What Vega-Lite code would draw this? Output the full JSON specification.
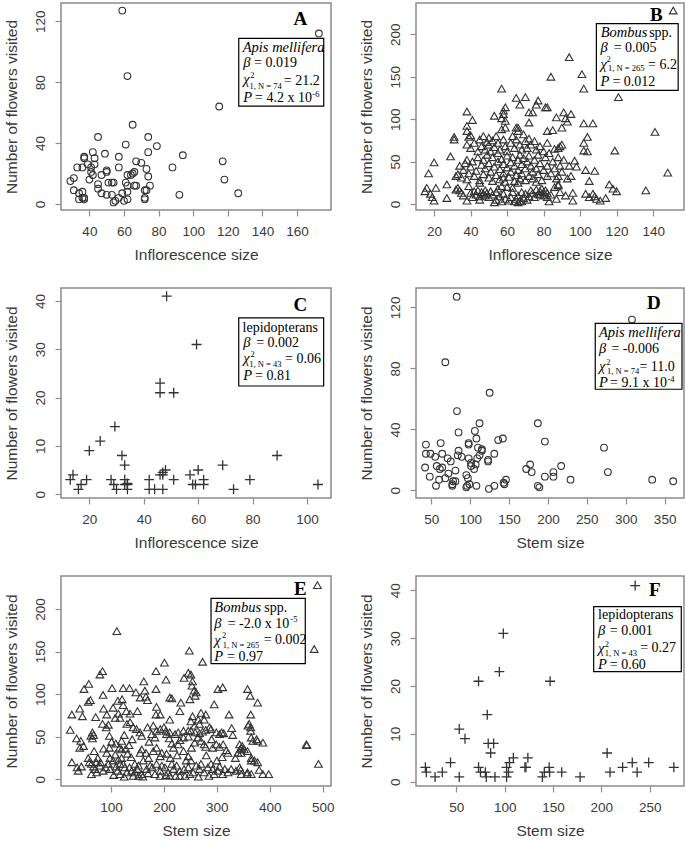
{
"$schema":"https://vega.github.io/schema/vega-lite/v6.json",
"background":"white",
"padding":{"left":3,"top":2,"right":0,"bottom":0},
"columns":2,
"spacing":{"row":78,"column":85},
"bounds":"flush",
"config":{
 "view":{"stroke":"#8c8c8c","strokeWidth":1.5},
 "axis":{"domain":false,"grid":false,"tickColor":"#8c8c8c","tickSize":6,"tickWidth":1.2,"labelFont":"Liberation Sans","labelFontSize":13.5,"labelColor":"#3a3a3a","titleFont":"Liberation Sans","titleFontSize":15.5,"titleFontWeight":"normal","titleColor":"#3a3a3a","labelPadding":8,"titlePadding":10},
 "axisY":{"labelAngle":-90,"labelAlign":"center","labelBaseline":"bottom","labelPadding":8,"titlePadding":14},
 "text":{"font":"Liberation Serif","align":"left","baseline":"middle","color":"black"}
},
"datasets":{
 "A":[{"x":59,"y":127},{"x":172.6,"y":112},{"x":62,"y":84},{"x":115,"y":64},{"x":65,"y":52},{"x":45,"y":44},{"x":74,"y":44},{"x":79,"y":38},{"x":61,"y":39},{"x":94,"y":32},{"x":74,"y":34},{"x":117,"y":28},{"x":88,"y":24},{"x":118,"y":16},{"x":126,"y":7},{"x":92,"y":6},{"x":57,"y":31},{"x":49,"y":33},{"x":37,"y":31},{"x":37,"y":30},{"x":42,"y":34},{"x":43,"y":30},{"x":43,"y":26},{"x":39,"y":26},{"x":33,"y":24},{"x":36,"y":24},{"x":41,"y":24},{"x":41,"y":21},{"x":57,"y":24},{"x":42,"y":19},{"x":40,"y":16},{"x":31,"y":17},{"x":29,"y":15},{"x":31,"y":9},{"x":36,"y":8},{"x":34,"y":7},{"x":34,"y":3},{"x":36,"y":4},{"x":37,"y":3},{"x":37,"y":4},{"x":45,"y":13},{"x":45,"y":10},{"x":47,"y":7},{"x":50,"y":6},{"x":53,"y":6},{"x":47,"y":19},{"x":50,"y":22},{"x":50,"y":21},{"x":51,"y":14},{"x":53,"y":14},{"x":54,"y":14},{"x":54,"y":1},{"x":55,"y":2},{"x":57,"y":4},{"x":60,"y":2},{"x":62,"y":3},{"x":59,"y":7},{"x":62,"y":8},{"x":61,"y":14},{"x":62,"y":19},{"x":64,"y":19},{"x":65,"y":20},{"x":66,"y":21},{"x":67,"y":28},{"x":70,"y":27},{"x":66,"y":12},{"x":67,"y":12},{"x":73,"y":23},{"x":74,"y":18},{"x":75,"y":12},{"x":72,"y":9},{"x":73,"y":9},{"x":72,"y":4},{"x":72,"y":3},{"x":62,"y":12}],
 "B":[{"x":16,"y":19},{"x":15,"y":15},{"x":19,"y":8},{"x":20,"y":4},{"x":21,"y":19},{"x":27,"y":23},{"x":27,"y":7},{"x":18,"y":12},{"x":33,"y":19},{"x":32,"y":17},{"x":34,"y":16},{"x":38,"y":4},{"x":36,"y":10},{"x":40,"y":13},{"x":41,"y":8},{"x":42,"y":15},{"x":43,"y":11},{"x":44,"y":16},{"x":45,"y":9},{"x":46,"y":14},{"x":47,"y":12},{"x":48,"y":10},{"x":48,"y":16},{"x":49,"y":13},{"x":50,"y":8},{"x":51,"y":15},{"x":52,"y":11},{"x":53,"y":2},{"x":54,"y":5},{"x":54,"y":14},{"x":55,"y":18},{"x":56,"y":9},{"x":57,"y":3},{"x":58,"y":12},{"x":59,"y":6},{"x":60,"y":20},{"x":61,"y":4},{"x":62,"y":8},{"x":63,"y":14},{"x":64,"y":3},{"x":65,"y":6},{"x":66,"y":2},{"x":66,"y":10},{"x":67,"y":4},{"x":68,"y":3},{"x":68,"y":14},{"x":69,"y":7},{"x":70,"y":12},{"x":71,"y":5},{"x":72,"y":9},{"x":73,"y":16},{"x":74,"y":13},{"x":75,"y":8},{"x":76,"y":17},{"x":77,"y":12},{"x":78,"y":15},{"x":78,"y":11},{"x":79,"y":18},{"x":80,"y":14},{"x":80,"y":10},{"x":81,"y":16},{"x":82,"y":13},{"x":82,"y":8},{"x":83,"y":3},{"x":84,"y":11},{"x":86,"y":20},{"x":87,"y":6},{"x":88,"y":22},{"x":89,"y":14},{"x":92,"y":10},{"x":96,"y":13},{"x":96,"y":4},{"x":103,"y":12},{"x":105,"y":8},{"x":107,"y":12},{"x":108,"y":9},{"x":109,"y":6},{"x":111,"y":4},{"x":114,"y":7},{"x":116,"y":23},{"x":118,"y":18},{"x":120,"y":15},{"x":136,"y":16},{"x":63,"y":19},{"x":57,"y":21},{"x":45,"y":5},{"x":39,"y":21},{"x":35,"y":13},
 {"x":29,"y":56},{"x":34,"y":45},{"x":17,"y":36},{"x":20,"y":49},{"x":32,"y":33},{"x":33,"y":35},{"x":35,"y":31},{"x":36,"y":40},{"x":37,"y":48},{"x":38,"y":52},{"x":38,"y":29},{"x":39,"y":36},{"x":40,"y":44},{"x":41,"y":50},{"x":42,"y":33},{"x":43,"y":39},{"x":44,"y":55},{"x":45,"y":28},{"x":46,"y":46},{"x":47,"y":52},{"x":47,"y":35},{"x":48,"y":42},{"x":49,"y":58},{"x":50,"y":31},{"x":50,"y":48},{"x":51,"y":38},{"x":52,"y":55},{"x":52,"y":27},{"x":53,"y":44},{"x":54,"y":34},{"x":55,"y":50},{"x":55,"y":60},{"x":56,"y":29},{"x":56,"y":41},{"x":57,"y":53},{"x":58,"y":36},{"x":58,"y":47},{"x":59,"y":26},{"x":60,"y":43},{"x":60,"y":57},{"x":61,"y":32},{"x":62,"y":49},{"x":62,"y":38},{"x":63,"y":55},{"x":64,"y":27},{"x":64,"y":45},{"x":65,"y":34},{"x":66,"y":52},{"x":66,"y":40},{"x":67,"y":58},{"x":67,"y":30},{"x":68,"y":47},{"x":68,"y":36},{"x":69,"y":54},{"x":70,"y":42},{"x":70,"y":28},{"x":71,"y":50},{"x":72,"y":33},{"x":72,"y":57},{"x":73,"y":45},{"x":74,"y":38},{"x":74,"y":30},{"x":75,"y":52},{"x":76,"y":42},{"x":77,"y":35},{"x":77,"y":58},{"x":78,"y":48},{"x":79,"y":28},{"x":80,"y":40},{"x":81,"y":55},{"x":82,"y":33},{"x":82,"y":45},{"x":83,"y":60},{"x":84,"y":36},{"x":85,"y":50},{"x":86,"y":42},{"x":87,"y":30},{"x":88,"y":55},{"x":89,"y":45},{"x":90,"y":38},{"x":91,"y":52},{"x":93,"y":30},{"x":94,"y":45},{"x":95,"y":33},{"x":97,"y":51},{"x":98,"y":44},{"x":103,"y":40},{"x":105,"y":27},{"x":108,"y":39},{"x":119,"y":63},{"x":104,"y":62},{"x":102,"y":63},{"x":88,"y":23},{"x":88,"y":33},{"x":66,"y":25},{"x":45,"y":25},{"x":58,"y":31},{"x":76,"y":26},
 {"x":31,"y":79},{"x":31,"y":76},{"x":38,"y":92},{"x":38,"y":86},{"x":39,"y":79},{"x":40,"y":81},{"x":41,"y":99},{"x":38,"y":109},{"x":38,"y":70},{"x":40,"y":66},{"x":42,"y":72},{"x":44,"y":62},{"x":45,"y":76},{"x":46,"y":68},{"x":47,"y":80},{"x":48,"y":64},{"x":49,"y":73},{"x":50,"y":78},{"x":50,"y":70},{"x":51,"y":62},{"x":52,"y":75},{"x":53,"y":104},{"x":53,"y":67},{"x":54,"y":80},{"x":55,"y":72},{"x":56,"y":64},{"x":57,"y":101},{"x":57,"y":88},{"x":58,"y":110},{"x":58,"y":76},{"x":59,"y":90},{"x":59,"y":98},{"x":59,"y":68},{"x":60,"y":62},{"x":62,"y":72},{"x":63,"y":80},{"x":64,"y":66},{"x":65,"y":90},{"x":65,"y":76},{"x":66,"y":86},{"x":67,"y":70},{"x":68,"y":64},{"x":69,"y":82},{"x":70,"y":74},{"x":71,"y":66},{"x":72,"y":77},{"x":72,"y":96},{"x":73,"y":70},{"x":75,"y":74},{"x":76,"y":64},{"x":78,"y":68},{"x":80,"y":62},{"x":82,"y":86},{"x":82,"y":72},{"x":85,"y":87},{"x":86,"y":65},{"x":88,"y":66},{"x":89,"y":68},{"x":90,"y":70},{"x":90,"y":90},{"x":91,"y":108},{"x":92,"y":101},{"x":93,"y":97},{"x":95,"y":106},{"x":87,"y":102},{"x":102,"y":72},{"x":104,"y":79},{"x":102,"y":95},{"x":107,"y":95},{"x":66,"y":90},
 {"x":57,"y":136},{"x":65,"y":125},{"x":70,"y":126},{"x":67,"y":117},{"x":76,"y":117},{"x":77,"y":122},{"x":74,"y":108},{"x":81,"y":114},{"x":59,"y":114},{"x":58,"y":106},{"x":72,"y":108},{"x":82,"y":114},{"x":84,"y":150},{"x":94,"y":173},{"x":101,"y":153},{"x":102,"y":136},{"x":121,"y":126},{"x":141,"y":85},{"x":148,"y":37},{"x":151,"y":228}],
 "C":[{"x":48.4,"y":41},{"x":59.4,"y":31},{"x":46,"y":23},{"x":46,"y":21},{"x":51,"y":21},{"x":29.4,"y":14},{"x":24,"y":11},{"x":20,"y":9},{"x":32,"y":8},{"x":33,"y":6},{"x":89,"y":8},{"x":69,"y":6},{"x":13,"y":3},{"x":14,"y":4},{"x":16,"y":1},{"x":17,"y":2},{"x":19,"y":3},{"x":28,"y":3},{"x":29,"y":2},{"x":30,"y":1},{"x":33,"y":3},{"x":33,"y":2},{"x":34,"y":2},{"x":34,"y":1},{"x":42,"y":3},{"x":42,"y":1},{"x":44,"y":1},{"x":47,"y":1},{"x":47,"y":4},{"x":47,"y":4.5},{"x":48,"y":5},{"x":51,"y":3},{"x":58,"y":2},{"x":57,"y":4},{"x":60,"y":5},{"x":59,"y":2},{"x":62,"y":3},{"x":62,"y":2},{"x":73,"y":1},{"x":79,"y":3},{"x":104,"y":2},{"x":34,"y":2.2},{"x":46,"y":4}],
 "D":[{"x":82.6,"y":127},{"x":308,"y":112},{"x":68,"y":84},{"x":125,"y":64},{"x":83,"y":52},{"x":112,"y":44},{"x":187,"y":44},{"x":106,"y":39},{"x":85,"y":38},{"x":142,"y":34},{"x":136,"y":33},{"x":108,"y":34},{"x":196,"y":32},{"x":43,"y":30},{"x":62,"y":31},{"x":98,"y":30},{"x":98,"y":31},{"x":85,"y":26},{"x":110,"y":28},{"x":115,"y":26},{"x":115,"y":27},{"x":272,"y":28},{"x":43,"y":24},{"x":49,"y":24},{"x":64,"y":24},{"x":84,"y":23},{"x":89,"y":22},{"x":98,"y":21},{"x":112,"y":23},{"x":109,"y":21},{"x":131,"y":24},{"x":71,"y":21},{"x":55,"y":22},{"x":75,"y":19},{"x":123,"y":19},{"x":123,"y":20},{"x":101,"y":18},{"x":101,"y":16},{"x":105,"y":14},{"x":42,"y":15},{"x":64,"y":15},{"x":61,"y":14},{"x":177,"y":17},{"x":172,"y":14},{"x":179,"y":12},{"x":217,"y":16},{"x":207,"y":12},{"x":207,"y":9},{"x":196,"y":9},{"x":277,"y":12},{"x":81,"y":13},{"x":72,"y":11},{"x":48,"y":9},{"x":95,"y":10},{"x":97,"y":8},{"x":68,"y":8},{"x":56,"y":3},{"x":77,"y":4},{"x":77,"y":3},{"x":81,"y":6},{"x":96,"y":3},{"x":99,"y":4},{"x":108,"y":3},{"x":95,"y":2},{"x":124,"y":1},{"x":131,"y":3},{"x":143,"y":5},{"x":144,"y":4},{"x":146,"y":7},{"x":187,"y":3},{"x":189,"y":2},{"x":229,"y":7},{"x":334,"y":7},{"x":361,"y":6},{"x":60,"y":7},{"x":78,"y":6},{"x":107,"y":17},{"x":57,"y":16}],
 "E":[{"x":490,"y":228},{"x":484,"y":153},{"x":492,"y":18},{"x":469,"y":41},{"x":470,"y":40},{"x":111,"y":174},{"x":201,"y":137},{"x":248,"y":151},{"x":273,"y":138},
 {"x":84,"y":127},{"x":79,"y":123},{"x":58,"y":112},{"x":49,"y":106},{"x":102,"y":107},{"x":123,"y":107},{"x":135,"y":107},{"x":147,"y":102},{"x":162,"y":115},{"x":185,"y":127},{"x":204,"y":117},{"x":185,"y":106},{"x":238,"y":119},{"x":246,"y":125},{"x":251,"y":123},{"x":254,"y":115},{"x":253,"y":110},{"x":257,"y":104},{"x":261,"y":102},{"x":302,"y":106},{"x":311,"y":108},{"x":358,"y":106},{"x":211,"y":96},{"x":215,"y":95},
 {"x":85,"y":99},{"x":57,"y":91},{"x":61,"y":93},{"x":41,"y":83},{"x":46,"y":74},{"x":26,"y":76},{"x":71,"y":73},{"x":86,"y":83},{"x":92,"y":76},{"x":114,"y":77},{"x":104,"y":84},{"x":113,"y":92},{"x":121,"y":94},{"x":123,"y":87},{"x":129,"y":80},{"x":136,"y":77},{"x":150,"y":80},{"x":166,"y":97},{"x":169,"y":93},{"x":186,"y":85},{"x":185,"y":76},{"x":193,"y":76},{"x":232,"y":90},{"x":249,"y":94},{"x":230,"y":80},{"x":155,"y":96},{"x":164,"y":104},{"x":259,"y":98},{"x":295,"y":88},{"x":363,"y":98},{"x":377,"y":90},{"x":364,"y":76},{"x":270,"y":78},{"x":279,"y":76},{"x":276,"y":70},{"x":265,"y":70},{"x":254,"y":74},{"x":211,"y":70},{"x":108,"y":72},{"x":117,"y":72},
 {"x":84,"y":65},{"x":65,"y":55},{"x":65,"y":48},{"x":62,"y":51},{"x":67,"y":52},{"x":35,"y":48},{"x":43,"y":45},{"x":23,"y":58},{"x":97,"y":51},{"x":91,"y":61},{"x":95,"y":64},{"x":130,"y":65},{"x":136,"y":67},{"x":142,"y":61},{"x":148,"y":59},{"x":155,"y":55},{"x":158,"y":51},{"x":169,"y":61},{"x":180,"y":63},{"x":186,"y":57},{"x":193,"y":59},{"x":177,"y":53},{"x":183,"y":49},{"x":205,"y":53},{"x":211,"y":55},{"x":221,"y":53},{"x":227,"y":55},{"x":237,"y":57},{"x":246,"y":57},{"x":200,"y":61},{"x":204,"y":57},{"x":210,"y":48},{"x":237,"y":49},{"x":246,"y":50},{"x":109,"y":42},{"x":361,"y":65},{"x":359,"y":63},{"x":364,"y":61},{"x":364,"y":57},{"x":323,"y":76},{"x":328,"y":60},{"x":251,"y":68},{"x":258,"y":63},{"x":267,"y":65},{"x":251,"y":57},{"x":259,"y":55},{"x":267,"y":54},{"x":273,"y":56},{"x":279,"y":58},{"x":286,"y":61},{"x":289,"y":59},{"x":299,"y":55},{"x":305,"y":53},{"x":309,"y":55},{"x":313,"y":54},{"x":264,"y":49},{"x":270,"y":45},{"x":258,"y":43},{"x":365,"y":49},{"x":368,"y":45},{"x":377,"y":45},{"x":387,"y":43},{"x":375,"y":47},{"x":120,"y":45},{"x":125,"y":52},{"x":140,"y":47},{"x":172,"y":44},{"x":215,"y":42},{"x":230,"y":46},{"x":290,"y":47},{"x":330,"y":52},
 {"x":48,"y":39},{"x":41,"y":37},{"x":86,"y":36},{"x":97,"y":37},{"x":116,"y":37},{"x":120,"y":35},{"x":108,"y":29},{"x":114,"y":23},{"x":120,"y":25},{"x":68,"y":33},{"x":75,"y":25},{"x":57,"y":25},{"x":92,"y":31},{"x":98,"y":25},{"x":104,"y":22},{"x":158,"y":35},{"x":155,"y":31},{"x":166,"y":31},{"x":180,"y":33},{"x":186,"y":37},{"x":193,"y":27},{"x":196,"y":31},{"x":218,"y":37},{"x":227,"y":41},{"x":237,"y":33},{"x":246,"y":27},{"x":242,"y":22},{"x":252,"y":37},{"x":145,"y":18},{"x":152,"y":16},{"x":161,"y":22},{"x":171,"y":25},{"x":276,"y":41},{"x":279,"y":38},{"x":292,"y":37},{"x":299,"y":41},{"x":305,"y":38},{"x":312,"y":41},{"x":318,"y":34},{"x":321,"y":31},{"x":343,"y":41},{"x":346,"y":37},{"x":346,"y":31},{"x":352,"y":35},{"x":358,"y":33},{"x":365,"y":25},{"x":371,"y":22},{"x":377,"y":20},{"x":340,"y":31},{"x":335,"y":25},{"x":348,"y":39},{"x":344,"y":35},{"x":131,"y":30},{"x":138,"y":26},{"x":205,"y":30},{"x":212,"y":25},{"x":225,"y":28},{"x":280,"y":28},{"x":300,"y":22},{"x":310,"y":26},{"x":128,"y":36},{"x":134,"y":40},{"x":101,"y":44},{"x":26,"y":20},{"x":36,"y":14},{"x":38,"y":10},{"x":44,"y":15},
 {"x":123,"y":18},{"x":117,"y":18},{"x":126,"y":14},{"x":79,"y":16},{"x":72,"y":20},{"x":59,"y":20},{"x":63,"y":18},{"x":67,"y":15},{"x":63,"y":6},{"x":73,"y":8},{"x":98,"y":12},{"x":112,"y":10},{"x":117,"y":6},{"x":130,"y":8},{"x":139,"y":10},{"x":142,"y":4},{"x":152,"y":4},{"x":158,"y":6},{"x":186,"y":18},{"x":193,"y":10},{"x":202,"y":14},{"x":208,"y":8},{"x":218,"y":12},{"x":224,"y":16},{"x":230,"y":10},{"x":238,"y":12},{"x":246,"y":14},{"x":183,"y":6},{"x":193,"y":4},{"x":204,"y":5},{"x":211,"y":4},{"x":167,"y":12},{"x":174,"y":16},{"x":230,"y":4},{"x":240,"y":4},{"x":249,"y":6},{"x":251,"y":22},{"x":261,"y":16},{"x":267,"y":12},{"x":270,"y":18},{"x":276,"y":8},{"x":283,"y":14},{"x":289,"y":18},{"x":292,"y":12},{"x":295,"y":6},{"x":302,"y":10},{"x":311,"y":6},{"x":321,"y":8},{"x":327,"y":12},{"x":336,"y":10},{"x":343,"y":14},{"x":346,"y":6},{"x":358,"y":8},{"x":365,"y":6},{"x":380,"y":11},{"x":398,"y":6},{"x":357,"y":6},{"x":345,"y":11},{"x":365,"y":22},{"x":387,"y":6},{"x":85,"y":10},{"x":90,"y":14},{"x":105,"y":5},{"x":110,"y":15},{"x":125,"y":3},{"x":135,"y":14},{"x":145,"y":8},{"x":150,"y":12},{"x":160,"y":3},{"x":170,"y":7},{"x":178,"y":14},{"x":196,"y":16},{"x":215,"y":18},{"x":222,"y":4},{"x":255,"y":8},{"x":265,"y":3},{"x":285,"y":4},{"x":305,"y":15},{"x":315,"y":12},{"x":80,"y":20},{"x":70,"y":12},{"x":95,"y":18}],
 "F":[{"x":235,"y":41},{"x":98.6,"y":31},{"x":94.5,"y":23},{"x":73,"y":21},{"x":147,"y":21},{"x":82,"y":14},{"x":53,"y":11},{"x":59,"y":9},{"x":83,"y":8},{"x":88.6,"y":8},{"x":85.5,"y":6},{"x":206,"y":6},{"x":18,"y":3},{"x":19,"y":2},{"x":28,"y":1},{"x":35.5,"y":2},{"x":44,"y":4},{"x":53,"y":1},{"x":73,"y":3},{"x":75,"y":2},{"x":80,"y":2},{"x":81,"y":1},{"x":90,"y":1},{"x":102,"y":3},{"x":102,"y":1},{"x":104,"y":2},{"x":105,"y":4},{"x":109,"y":5},{"x":121,"y":3},{"x":122,"y":3},{"x":124,"y":5},{"x":139,"y":1},{"x":141,"y":2},{"x":146,"y":3},{"x":146.5,"y":2},{"x":159,"y":2},{"x":178,"y":1},{"x":209,"y":2},{"x":222,"y":3},{"x":232,"y":4},{"x":237,"y":2},{"x":249,"y":4},{"x":275,"y":3}],
 "annA":[{"role":"box","x":126.3,"x2":175.4,"y":108.8,"y2":64.3},{"role":"letter","x":161.9,"y":121.3,"text":"A"},{"role":"taxon","x":128.6,"y":102.6,"text":"Apis mellifera"},{"role":"symbol","x":128.9,"y":92.8,"text":"β"},{"role":"value","x":135.1,"y":92.8,"text":"= 0.019"},{"role":"symbol","x":128.9,"y":81.2,"text":"χ"},{"role":"index","x":133.0,"y":84.7,"text":"2"},{"role":"index","x":132.5,"y":77.5,"text":"1, N = 74"},{"role":"value","x":152.3,"y":81.0,"text":"= 21.2"},{"role":"symbol","x":128.9,"y":69.8,"text":"P"},{"role":"value","x":135.7,"y":69.8,"text":"= 4.2 x 10"},{"role":"index","x":168.8,"y":72.0,"text":"-6"}],
 "annB":[{"role":"box","x":108.9,"x2":153.7,"y":212.5,"y2":134.0},{"role":"letter","x":141.8,"y":222.8,"text":"B"},{"role":"taxon","x":111.3,"y":201.2,"text":"Bombus"},{"role":"value","x":137.8,"y":201.2,"text":"spp."},{"role":"symbol","x":111.1,"y":184.2,"text":"β"},{"role":"value","x":118.4,"y":184.2,"text":"= 0.005"},{"role":"symbol","x":111.1,"y":163.8,"text":"χ"},{"role":"index","x":114.4,"y":170.5,"text":"2"},{"role":"index","x":115.3,"y":160.0,"text":"1, N = 265"},{"role":"value","x":137.2,"y":164.0,"text":"= 6.2"},{"role":"symbol","x":111.1,"y":144.1,"text":"P"},{"role":"value","x":117.7,"y":144.1,"text":"= 0.012"}],
 "annC":[{"role":"box","x":74.9,"x2":106.1,"y":36.5,"y2":22.4},{"role":"letter","x":97.5,"y":39.2,"text":"C"},{"role":"value","x":76.3,"y":34.5,"text":"lepidopterans"},{"role":"symbol","x":76.6,"y":31.4,"text":"β"},{"role":"value","x":81.3,"y":31.4,"text":"= 0.002"},{"role":"symbol","x":76.6,"y":27.9,"text":"χ"},{"role":"index","x":79.2,"y":29.0,"text":"2"},{"role":"index","x":78.8,"y":26.9,"text":"1, N = 43"},{"role":"value","x":91.9,"y":27.9,"text":"= 0.06"},{"role":"symbol","x":76.6,"y":24.5,"text":"P"},{"role":"value","x":80.9,"y":24.5,"text":"= 0.81"}],
 "annD":[{"role":"box","x":260.8,"x2":372.3,"y":109.5,"y2":66.3},{"role":"letter","x":336.3,"y":123.1,"text":"D"},{"role":"taxon","x":265.5,"y":103.1,"text":"Apis mellifera"},{"role":"symbol","x":265.5,"y":92.5,"text":"β"},{"role":"value","x":281.6,"y":92.5,"text":"= -0.006"},{"role":"symbol","x":265.5,"y":80.9,"text":"χ"},{"role":"index","x":275.0,"y":84.4,"text":"2"},{"role":"index","x":275.9,"y":78.3,"text":"1, N = 74"},{"role":"value","x":317.6,"y":81.2,"text":"= 11.0"},{"role":"symbol","x":265.5,"y":70.6,"text":"P"},{"role":"value","x":279.8,"y":70.6,"text":"= 9.1 x 10"},{"role":"index","x":353.6,"y":72.8,"text":"-4"}],
 "annE":[{"role":"box","x":289.0,"x2":467.1,"y":212.5,"y2":135.7},{"role":"letter","x":457.7,"y":223.1,"text":"E"},{"role":"taxon","x":295.2,"y":200.8,"text":"Bombus"},{"role":"value","x":389.7,"y":200.8,"text":"spp."},{"role":"symbol","x":295.2,"y":182.0,"text":"β"},{"role":"value","x":320.5,"y":182.0,"text":"= -2.0 x 10"},{"role":"index","x":438.8,"y":187.9,"text":"-5"},{"role":"symbol","x":295.2,"y":162.4,"text":"χ"},{"role":"index","x":309.7,"y":169.4,"text":"2"},{"role":"index","x":311.1,"y":157.7,"text":"1, N = 265"},{"role":"value","x":388.5,"y":163.4,"text":"= 0.002"},{"role":"symbol","x":295.2,"y":144.0,"text":"P"},{"role":"value","x":319.2,"y":144.0,"text":"= 0.97"}],
 "annF":[{"role":"box","x":192.1,"x2":282.7,"y":36.6,"y2":23.0},{"role":"letter","x":255.2,"y":40.0,"text":"F"},{"role":"value","x":196.6,"y":34.8,"text":"lepidopterans"},{"role":"symbol","x":196.6,"y":31.4,"text":"β"},{"role":"value","x":208.7,"y":31.4,"text":"= 0.001"},{"role":"symbol","x":196.6,"y":27.7,"text":"χ"},{"role":"index","x":203.5,"y":28.8,"text":"2"},{"role":"index","x":203.5,"y":27.0,"text":"1, N = 43"},{"role":"value","x":240.2,"y":27.9,"text":"= 0.27"},{"role":"symbol","x":196.6,"y":24.4,"text":"P"},{"role":"value","x":208.7,"y":24.4,"text":"= 0.60"}]
},
"concat":[
 {"width":270,"height":207,"layer":[
  {"data":{"name":"A"},"mark":{"type":"point","shape":"circle","size":45,"filled":false,"color":"#333333","strokeWidth":1.1,"opacity":1},
   "encoding":{"x":{"field":"x","type":"quantitative","scale":{"domain":[23.6,179.6],"nice":false,"zero":false},"axis":{"values":[40,60,80,100,120,140,160],"title":"Inflorescence size"}},
    "y":{"field":"y","type":"quantitative","scale":{"domain":[-4,132],"nice":false,"zero":false},"axis":{"values":[0,20,40,60,80,100,120],"title":"Number of flowers visited"}}}},
  {"data":{"name":"annA"},"transform":[{"filter":"datum.role == 'box'"}],"mark":{"type":"rect","fill":"white","stroke":"black","strokeWidth":1.2},"encoding":{"x":{"field":"x","type":"quantitative"},"x2":{"field":"x2"},"y":{"field":"y","type":"quantitative"},"y2":{"field":"y2"}}},
  {"data":{"name":"annA"},"transform":[{"filter":"datum.role == 'letter'"}],"mark":{"type":"text","fontSize":19,"fontWeight":"bold","align":"center"},"encoding":{"x":{"field":"x","type":"quantitative"},"y":{"field":"y","type":"quantitative"},"text":{"field":"text"}}},
  {"data":{"name":"annA"},"transform":[{"filter":"datum.role == 'taxon' || datum.role == 'symbol'"}],"mark":{"type":"text","fontSize":14.5,"fontStyle":"italic"},"encoding":{"x":{"field":"x","type":"quantitative"},"y":{"field":"y","type":"quantitative"},"text":{"field":"text"}}},
  {"data":{"name":"annA"},"transform":[{"filter":"datum.role == 'value'"}],"mark":{"type":"text","fontSize":14},"encoding":{"x":{"field":"x","type":"quantitative"},"y":{"field":"y","type":"quantitative"},"text":{"field":"text"}}},
  {"data":{"name":"annA"},"transform":[{"filter":"datum.role == 'index'"}],"mark":{"type":"text","fontSize":8.5},"encoding":{"x":{"field":"x","type":"quantitative"},"y":{"field":"y","type":"quantitative"},"text":{"field":"text"}}}
 ]},
 {"width":268,"height":207,"layer":[
  {"data":{"name":"B"},"mark":{"type":"point","shape":"triangle-up","size":60,"filled":false,"color":"#333333","strokeWidth":1.1,"opacity":1},
   "encoding":{"x":{"field":"x","type":"quantitative","scale":{"domain":[10.1,156.9],"nice":false,"zero":false},"axis":{"values":[20,40,60,80,100,120,140],"title":"Inflorescence size"}},
    "y":{"field":"y","type":"quantitative","scale":{"domain":[-7.1,236.9],"nice":false,"zero":false},"axis":{"values":[0,50,100,150,200],"title":"Number of flowers visited"}}}},
  {"data":{"name":"annB"},"transform":[{"filter":"datum.role == 'box'"}],"mark":{"type":"rect","fill":"white","stroke":"black","strokeWidth":1.2},"encoding":{"x":{"field":"x","type":"quantitative"},"x2":{"field":"x2"},"y":{"field":"y","type":"quantitative"},"y2":{"field":"y2"}}},
  {"data":{"name":"annB"},"transform":[{"filter":"datum.role == 'letter'"}],"mark":{"type":"text","fontSize":19,"fontWeight":"bold","align":"center"},"encoding":{"x":{"field":"x","type":"quantitative"},"y":{"field":"y","type":"quantitative"},"text":{"field":"text"}}},
  {"data":{"name":"annB"},"transform":[{"filter":"datum.role == 'taxon' || datum.role == 'symbol'"}],"mark":{"type":"text","fontSize":14.5,"fontStyle":"italic"},"encoding":{"x":{"field":"x","type":"quantitative"},"y":{"field":"y","type":"quantitative"},"text":{"field":"text"}}},
  {"data":{"name":"annB"},"transform":[{"filter":"datum.role == 'value'"}],"mark":{"type":"text","fontSize":14},"encoding":{"x":{"field":"x","type":"quantitative"},"y":{"field":"y","type":"quantitative"},"text":{"field":"text"}}},
  {"data":{"name":"annB"},"transform":[{"filter":"datum.role == 'index'"}],"mark":{"type":"text","fontSize":8.5},"encoding":{"x":{"field":"x","type":"quantitative"},"y":{"field":"y","type":"quantitative"},"text":{"field":"text"}}}
 ]},
 {"width":270,"height":210,"layer":[
  {"data":{"name":"C"},"mark":{"type":"point","shape":"M-1,0H1M0,-1V1","size":100,"filled":false,"color":"#333333","strokeWidth":1.3,"opacity":1},
   "encoding":{"x":{"field":"x","type":"quantitative","scale":{"domain":[9.6,108.8],"nice":false,"zero":false},"axis":{"values":[20,40,60,80,100],"title":"Inflorescence size"}},
    "y":{"field":"y","type":"quantitative","scale":{"domain":[-0.8,42.7],"nice":false,"zero":false},"axis":{"values":[0,10,20,30,40],"title":"Number of flowers visited"}}}},
  {"data":{"name":"annC"},"transform":[{"filter":"datum.role == 'box'"}],"mark":{"type":"rect","fill":"white","stroke":"black","strokeWidth":1.2},"encoding":{"x":{"field":"x","type":"quantitative"},"x2":{"field":"x2"},"y":{"field":"y","type":"quantitative"},"y2":{"field":"y2"}}},
  {"data":{"name":"annC"},"transform":[{"filter":"datum.role == 'letter'"}],"mark":{"type":"text","fontSize":19,"fontWeight":"bold","align":"center"},"encoding":{"x":{"field":"x","type":"quantitative"},"y":{"field":"y","type":"quantitative"},"text":{"field":"text"}}},
  {"data":{"name":"annC"},"transform":[{"filter":"datum.role == 'taxon' || datum.role == 'symbol'"}],"mark":{"type":"text","fontSize":14.5,"fontStyle":"italic"},"encoding":{"x":{"field":"x","type":"quantitative"},"y":{"field":"y","type":"quantitative"},"text":{"field":"text"}}},
  {"data":{"name":"annC"},"transform":[{"filter":"datum.role == 'value'"}],"mark":{"type":"text","fontSize":14},"encoding":{"x":{"field":"x","type":"quantitative"},"y":{"field":"y","type":"quantitative"},"text":{"field":"text"}}},
  {"data":{"name":"annC"},"transform":[{"filter":"datum.role == 'index'"}],"mark":{"type":"text","fontSize":8.5},"encoding":{"x":{"field":"x","type":"quantitative"},"y":{"field":"y","type":"quantitative"},"text":{"field":"text"}}}
 ]},
 {"width":268,"height":210,"layer":[
  {"data":{"name":"D"},"mark":{"type":"point","shape":"circle","size":45,"filled":false,"color":"#333333","strokeWidth":1.1,"opacity":1},
   "encoding":{"x":{"field":"x","type":"quantitative","scale":{"domain":[30.3,374.9],"nice":false,"zero":false},"axis":{"values":[50,100,150,200,250,300,350],"title":"Stem size"}},
    "y":{"field":"y","type":"quantitative","scale":{"domain":[-5,132.7],"nice":false,"zero":false},"axis":{"values":[0,20,40,60,80,100,120],"title":"Number of flowers visited"}}}},
  {"data":{"name":"annD"},"transform":[{"filter":"datum.role == 'box'"}],"mark":{"type":"rect","fill":"white","stroke":"black","strokeWidth":1.2},"encoding":{"x":{"field":"x","type":"quantitative"},"x2":{"field":"x2"},"y":{"field":"y","type":"quantitative"},"y2":{"field":"y2"}}},
  {"data":{"name":"annD"},"transform":[{"filter":"datum.role == 'letter'"}],"mark":{"type":"text","fontSize":19,"fontWeight":"bold","align":"center"},"encoding":{"x":{"field":"x","type":"quantitative"},"y":{"field":"y","type":"quantitative"},"text":{"field":"text"}}},
  {"data":{"name":"annD"},"transform":[{"filter":"datum.role == 'taxon' || datum.role == 'symbol'"}],"mark":{"type":"text","fontSize":14.5,"fontStyle":"italic"},"encoding":{"x":{"field":"x","type":"quantitative"},"y":{"field":"y","type":"quantitative"},"text":{"field":"text"}}},
  {"data":{"name":"annD"},"transform":[{"filter":"datum.role == 'value'"}],"mark":{"type":"text","fontSize":14},"encoding":{"x":{"field":"x","type":"quantitative"},"y":{"field":"y","type":"quantitative"},"text":{"field":"text"}}},
  {"data":{"name":"annD"},"transform":[{"filter":"datum.role == 'index'"}],"mark":{"type":"text","fontSize":8.5},"encoding":{"x":{"field":"x","type":"quantitative"},"y":{"field":"y","type":"quantitative"},"text":{"field":"text"}}}
 ]},
 {"width":270,"height":210,"layer":[
  {"data":{"name":"E"},"mark":{"type":"point","shape":"triangle-up","size":60,"filled":false,"color":"#333333","strokeWidth":1.1,"opacity":1},
   "encoding":{"x":{"field":"x","type":"quantitative","scale":{"domain":[5.5,515.7],"nice":false,"zero":false},"axis":{"values":[100,200,300,400,500],"title":"Stem size"}},
    "y":{"field":"y","type":"quantitative","scale":{"domain":[-7.9,238.7],"nice":false,"zero":false},"axis":{"values":[0,50,100,150,200],"title":"Number of flowers visited"}}}},
  {"data":{"name":"annE"},"transform":[{"filter":"datum.role == 'box'"}],"mark":{"type":"rect","fill":"white","stroke":"black","strokeWidth":1.2},"encoding":{"x":{"field":"x","type":"quantitative"},"x2":{"field":"x2"},"y":{"field":"y","type":"quantitative"},"y2":{"field":"y2"}}},
  {"data":{"name":"annE"},"transform":[{"filter":"datum.role == 'letter'"}],"mark":{"type":"text","fontSize":19,"fontWeight":"bold","align":"center"},"encoding":{"x":{"field":"x","type":"quantitative"},"y":{"field":"y","type":"quantitative"},"text":{"field":"text"}}},
  {"data":{"name":"annE"},"transform":[{"filter":"datum.role == 'taxon' || datum.role == 'symbol'"}],"mark":{"type":"text","fontSize":14.5,"fontStyle":"italic"},"encoding":{"x":{"field":"x","type":"quantitative"},"y":{"field":"y","type":"quantitative"},"text":{"field":"text"}}},
  {"data":{"name":"annE"},"transform":[{"filter":"datum.role == 'value'"}],"mark":{"type":"text","fontSize":14},"encoding":{"x":{"field":"x","type":"quantitative"},"y":{"field":"y","type":"quantitative"},"text":{"field":"text"}}},
  {"data":{"name":"annE"},"transform":[{"filter":"datum.role == 'index'"}],"mark":{"type":"text","fontSize":8.5},"encoding":{"x":{"field":"x","type":"quantitative"},"y":{"field":"y","type":"quantitative"},"text":{"field":"text"}}}
 ]},
 {"width":268,"height":210,"layer":[
  {"data":{"name":"F"},"mark":{"type":"point","shape":"M-1,0H1M0,-1V1","size":100,"filled":false,"color":"#333333","strokeWidth":1.3,"opacity":1},
   "encoding":{"x":{"field":"x","type":"quantitative","scale":{"domain":[8.3,285.5],"nice":false,"zero":false},"axis":{"values":[50,100,150,200,250],"title":"Stem size"}},
    "y":{"field":"y","type":"quantitative","scale":{"domain":[-0.9,43],"nice":false,"zero":false},"axis":{"values":[0,10,20,30,40],"title":"Number of flowers visited"}}}},
  {"data":{"name":"annF"},"transform":[{"filter":"datum.role == 'box'"}],"mark":{"type":"rect","fill":"white","stroke":"black","strokeWidth":1.2},"encoding":{"x":{"field":"x","type":"quantitative"},"x2":{"field":"x2"},"y":{"field":"y","type":"quantitative"},"y2":{"field":"y2"}}},
  {"data":{"name":"annF"},"transform":[{"filter":"datum.role == 'letter'"}],"mark":{"type":"text","fontSize":19,"fontWeight":"bold","align":"center"},"encoding":{"x":{"field":"x","type":"quantitative"},"y":{"field":"y","type":"quantitative"},"text":{"field":"text"}}},
  {"data":{"name":"annF"},"transform":[{"filter":"datum.role == 'taxon' || datum.role == 'symbol'"}],"mark":{"type":"text","fontSize":14.5,"fontStyle":"italic"},"encoding":{"x":{"field":"x","type":"quantitative"},"y":{"field":"y","type":"quantitative"},"text":{"field":"text"}}},
  {"data":{"name":"annF"},"transform":[{"filter":"datum.role == 'value'"}],"mark":{"type":"text","fontSize":14},"encoding":{"x":{"field":"x","type":"quantitative"},"y":{"field":"y","type":"quantitative"},"text":{"field":"text"}}},
  {"data":{"name":"annF"},"transform":[{"filter":"datum.role == 'index'"}],"mark":{"type":"text","fontSize":8.5},"encoding":{"x":{"field":"x","type":"quantitative"},"y":{"field":"y","type":"quantitative"},"text":{"field":"text"}}}
 ]}
]
}
